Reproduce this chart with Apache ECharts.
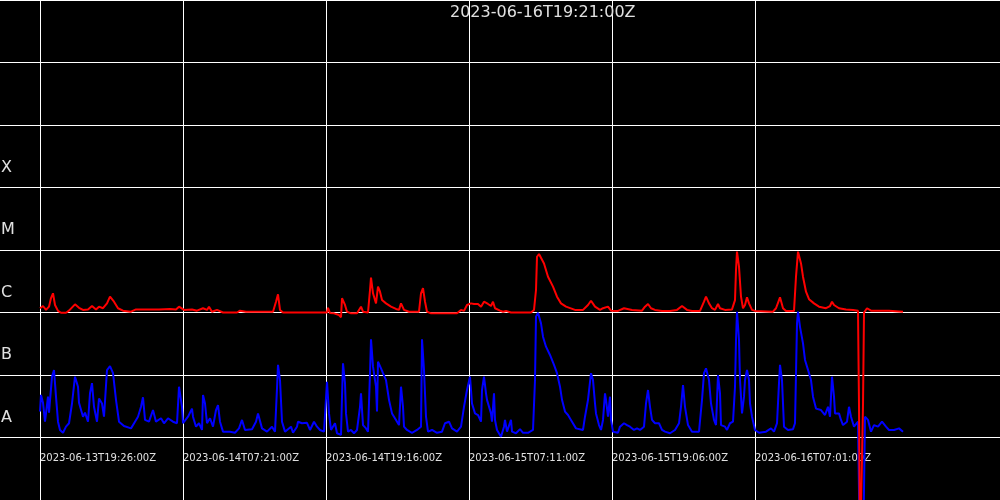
<!DOCTYPE html>
<html>
<head>
<meta charset="utf-8">
<script src="https://cdn.jsdelivr.net/npm/echarts@6/dist/echarts.min.js"></script>
<style>html,body{margin:0;padding:0;background:#000}#c{width:1000px;height:500px}</style>
</head>
<body>
<div id="c"></div>
<script>
// Time in minutes since 2023-06-13T19:26:00Z
const titleText = '2023-06-16T19:21:00Z';
const tickMinutes = [0, 715, 1430, 2145, 2860, 3575];
const tickLabels = ['2023-06-13T19:26:00Z','2023-06-14T07:21:00Z','2023-06-14T19:16:00Z','2023-06-15T07:11:00Z','2023-06-15T19:06:00Z','2023-06-16T07:01:00Z'];
const classValues = [1e-8, 1e-7, 1e-6, 1e-5, 1e-4];
const classLetters = ['A', 'B', 'C', 'M', 'X'];

// Long channel (1-8 Å), W/m²
const longTime = [0,15,30,45,55,65,75,90,105,130,145,175,195,215,240,260,280,295,315,335,350,370,390,415,455,480,530,595,650,680,695,720,760,785,815,835,845,860,885,915,985,1000,1030,1165,1180,1190,1200,1215,1435,1440,1450,1470,1495,1505,1510,1525,1535,1555,1585,1605,1615,1640,1650,1655,1665,1680,1690,1700,1710,1730,1755,1780,1795,1805,1820,1845,1895,1905,1915,1925,1935,1955,2085,2105,2120,2135,2155,2170,2190,2205,2220,2240,2255,2265,2275,2300,2315,2330,2355,2455,2470,2480,2485,2495,2505,2520,2540,2565,2585,2605,2630,2675,2715,2740,2755,2775,2800,2815,2840,2855,2890,2920,2960,3010,3025,3040,3055,3075,3110,3150,3185,3210,3235,3260,3300,3320,3330,3345,3360,3375,3390,3400,3425,3460,3475,3480,3485,3495,3505,3515,3525,3535,3545,3560,3575,3665,3680,3695,3700,3715,3730,3770,3780,3790,3795,3805,3815,3830,3845,3870,3895,3930,3950,3960,3970,3995,4030,4065,4090,4095,4100,4110,4115,4120,4135,4155,4215,4245,4315];
const longFlux = [1.17e-6,1.27e-6,1.10e-6,1.24e-6,1.70e-6,2.03e-6,1.32e-6,1.06e-6,0.99e-6,0.99e-6,1.07e-6,1.35e-6,1.19e-6,1.10e-6,1.12e-6,1.27e-6,1.12e-6,1.24e-6,1.17e-6,1.40e-6,1.79e-6,1.49e-6,1.17e-6,1.07e-6,1.03e-6,1.12e-6,1.12e-6,1.12e-6,1.14e-6,1.12e-6,1.24e-6,1.10e-6,1.12e-6,1.07e-6,1.17e-6,1.10e-6,1.24e-6,1.03e-6,1.10e-6,1.00e-6,1.00e-6,1.07e-6,1.03e-6,1.03e-6,1.49e-6,1.95e-6,1.10e-6,1.00e-6,1.00e-6,1.19e-6,0.98e-6,0.97e-6,0.91e-6,0.84e-6,1.69e-6,1.32e-6,1.03e-6,0.97e-6,0.97e-6,1.24e-6,1.03e-6,1.00e-6,2.29e-6,3.61e-6,2.03e-6,1.40e-6,2.59e-6,2.15e-6,1.58e-6,1.40e-6,1.24e-6,1.14e-6,1.10e-6,1.40e-6,1.10e-6,1.03e-6,1.03e-6,2.03e-6,2.45e-6,1.49e-6,1.03e-6,0.97e-6,0.97e-6,1.10e-6,1.06e-6,1.32e-6,1.40e-6,1.37e-6,1.37e-6,1.24e-6,1.49e-6,1.37e-6,1.27e-6,1.49e-6,1.17e-6,1.07e-6,1.03e-6,1.06e-6,1.00e-6,1.00e-6,1.10e-6,2.29e-6,7.8e-6,8.6e-6,8.3e-6,6.1e-6,3.74e-6,2.59e-6,1.79e-6,1.40e-6,1.24e-6,1.10e-6,1.10e-6,1.32e-6,1.54e-6,1.24e-6,1.10e-6,1.17e-6,1.24e-6,1.07e-6,1.06e-6,1.17e-6,1.10e-6,1.07e-6,1.24e-6,1.37e-6,1.17e-6,1.10e-6,1.06e-6,1.06e-6,1.10e-6,1.27e-6,1.10e-6,1.06e-6,1.06e-6,1.49e-6,1.79e-6,1.40e-6,1.17e-6,1.10e-6,1.37e-6,1.17e-6,1.10e-6,1.12e-6,1.58e-6,4.79e-6,9.4e-6,5.4e-6,1.79e-6,1.17e-6,1.32e-6,1.75e-6,1.40e-6,1.10e-6,1.06e-6,1.03e-6,1.17e-6,1.58e-6,1.75e-6,1.17e-6,1.06e-6,1.06e-6,3.74e-6,9.4e-6,1.0e-5,6.1e-6,3.74e-6,2.15e-6,1.63e-6,1.40e-6,1.24e-6,1.17e-6,1.27e-6,1.49e-6,1.32e-6,1.17e-6,1.12e-6,1.10e-6,1.07e-6,3.3e-8,1e-10,1e-10,3.3e-8,1.00e-6,1.17e-6,1.07e-6,1.07e-6,1.07e-6,1.03e-6];

// Short channel (0.5-4 Å), W/m²
const shortTime = [0,5,15,25,40,45,60,70,80,90,100,115,130,145,160,175,190,195,215,225,240,250,260,270,285,295,310,320,335,350,365,380,395,420,455,475,490,505,515,525,545,565,580,605,620,640,665,685,695,710,715,740,760,765,780,795,810,815,825,835,850,865,880,890,900,915,950,975,995,1010,1025,1060,1080,1090,1110,1135,1160,1175,1185,1190,1200,1210,1225,1255,1265,1285,1290,1310,1335,1350,1370,1385,1400,1420,1435,1445,1455,1465,1475,1485,1505,1510,1515,1525,1530,1540,1555,1570,1585,1600,1605,1615,1630,1640,1650,1655,1665,1680,1685,1690,1705,1715,1730,1745,1760,1780,1795,1805,1815,1820,1835,1860,1885,1905,1910,1920,1930,1940,1960,1985,2010,2025,2045,2060,2085,2105,2120,2135,2150,2160,2175,2190,2205,2210,2220,2230,2235,2255,2260,2270,2275,2285,2305,2320,2325,2335,2355,2360,2380,2400,2415,2440,2465,2475,2480,2490,2505,2515,2530,2550,2570,2585,2600,2610,2625,2640,2660,2680,2715,2725,2740,2755,2765,2775,2780,2795,2805,2815,2825,2830,2840,2850,2855,2865,2890,2900,2920,2935,2950,2970,2985,3000,3020,3030,3040,3050,3060,3075,3095,3110,3125,3150,3175,3195,3205,3215,3225,3240,3260,3295,3310,3320,3330,3345,3355,3370,3380,3390,3400,3405,3425,3435,3450,3465,3475,3480,3485,3495,3500,3510,3520,3525,3535,3545,3550,3560,3575,3595,3630,3655,3670,3685,3695,3700,3710,3720,3740,3765,3775,3785,3790,3800,3815,3825,3845,3855,3865,3880,3905,3925,3940,3950,3960,3970,3975,3995,4005,4015,4035,4045,4055,4070,4090,4100,4115,4125,4140,4155,4170,4190,4210,4230,4245,4270,4295,4315];
const shortFlux = [2.6e-8,4.8e-8,3.6e-8,1.79e-8,4.5e-8,2.5e-8,9.4e-8,1.2e-7,4.5e-8,1.79e-8,1.32e-8,1.19e-8,1.49e-8,1.69e-8,3.5e-8,9.4e-8,6.5e-8,3.6e-8,2.15e-8,2.5e-8,1.79e-8,5.1e-8,7.4e-8,3.1e-8,1.79e-8,4.2e-8,3.5e-8,2.15e-8,1.2e-7,1.39e-7,1.07e-7,4.0e-8,1.79e-8,1.53e-8,1.40e-8,1.79e-8,2.15e-8,3.1e-8,4.4e-8,1.91e-8,1.79e-8,2.75e-8,1.79e-8,2.03e-8,1.69e-8,2.03e-8,1.79e-8,1.69e-8,6.5e-8,3.1e-8,1.69e-8,2.15e-8,2.9e-8,2.15e-8,1.49e-8,1.69e-8,1.32e-8,4.8e-8,3.5e-8,1.69e-8,2.03e-8,1.49e-8,2.75e-8,3.3e-8,1.79e-8,1.24e-8,1.24e-8,1.19e-8,1.40e-8,1.91e-8,1.32e-8,1.36e-8,1.79e-8,2.43e-8,1.40e-8,1.24e-8,1.49e-8,1.24e-8,6.1e-8,1.45e-7,8.3e-8,1.79e-8,1.24e-8,1.49e-8,1.19e-8,1.49e-8,1.79e-8,1.69e-8,1.72e-8,1.32e-8,1.79e-8,1.49e-8,1.32e-8,1.24e-8,7.8e-8,2.43e-8,1.32e-8,1.40e-8,1.69e-8,1.17e-8,1.10e-8,4.5e-8,1.54e-7,7.4e-8,2.43e-8,1.24e-8,1.32e-8,1.17e-8,1.32e-8,3.1e-8,5.1e-8,1.58e-8,1.40e-8,1.24e-8,1.07e-7,3.72e-7,1.36e-7,6.5e-8,2.6e-8,1.63e-7,1.28e-7,1.07e-7,8.3e-8,4.0e-8,2.43e-8,1.91e-8,1.58e-8,6.5e-8,3.1e-8,1.49e-8,1.32e-8,1.19e-8,1.32e-8,1.49e-8,3.72e-7,1.2e-7,2.15e-8,1.24e-8,1.32e-8,1.19e-8,1.24e-8,1.69e-8,1.79e-8,1.40e-8,1.24e-8,1.49e-8,3.1e-8,5.75e-8,9.4e-8,3.5e-8,2.43e-8,2.29e-8,1.79e-8,5.75e-8,9.4e-8,5.1e-8,4.0e-8,2.43e-8,1.79e-8,5.1e-8,1.91e-8,1.32e-8,1.03e-8,1.49e-8,1.91e-8,1.24e-8,1.91e-8,1.24e-8,1.17e-8,1.36e-8,1.19e-8,1.19e-8,1.32e-8,8.3e-8,8.6e-7,9.9e-7,6.7e-7,4.1e-7,2.84e-7,2.09e-7,1.45e-7,1.07e-7,6.5e-8,4.0e-8,2.6e-8,2.29e-8,1.79e-8,1.40e-8,1.32e-8,2.15e-8,4.0e-8,1.07e-7,8.3e-8,3.5e-8,2.43e-8,1.58e-8,1.32e-8,1.91e-8,5.1e-8,4.0e-8,2.15e-8,4.5e-8,1.91e-8,1.24e-8,1.19e-8,1.49e-8,1.69e-8,1.58e-8,1.49e-8,1.32e-8,1.40e-8,1.32e-8,1.49e-8,3.5e-8,5.75e-8,3.1e-8,1.91e-8,1.69e-8,1.69e-8,1.32e-8,1.24e-8,1.17e-8,1.32e-8,1.69e-8,3.1e-8,6.9e-8,3.1e-8,1.58e-8,1.24e-8,1.24e-8,4.0e-8,1.07e-7,1.28e-7,8.3e-8,3.5e-8,1.91e-8,1.58e-8,1.0e-7,5.1e-8,1.58e-8,1.49e-8,1.32e-8,1.69e-8,1.79e-8,6.5e-8,3.63e-7,1.03e-6,3.63e-7,8.3e-8,2.43e-8,4.5e-8,8.3e-8,1.2e-7,8.3e-8,3.5e-8,2.15e-8,1.32e-8,1.19e-8,1.24e-8,1.40e-8,1.24e-8,1.69e-8,7.4e-8,1.45e-7,8.3e-8,1.49e-8,1.32e-8,1.36e-8,1.69e-8,6.7e-7,1.03e-6,5.9e-7,3.21e-7,1.74e-7,1.07e-7,8.3e-8,4.5e-8,2.9e-8,2.75e-8,2.29e-8,3.1e-8,2.15e-8,9.4e-8,4.5e-8,2.43e-8,2.43e-8,1.91e-8,1.58e-8,1.79e-8,3.1e-8,2.15e-8,1.49e-8,1.79e-8,1e-10,1e-10,2.15e-8,1.91e-8,1.24e-8,1.58e-8,1.49e-8,1.79e-8,1.49e-8,1.32e-8,1.32e-8,1.40e-8,1.24e-8];

const zip = (t, v) => t.map((x, i) => [x, v[i]]);
const txt = '#e0e0e0';
const font = 'DejaVu Sans';

const chart = echarts.init(document.getElementById('c'), null, {renderer: 'canvas'});
chart.setOption({
  backgroundColor: '#000',
  animation: false,
  title: {
    text: titleText, left: 450, top: 5, padding: 0,
    textStyle: {color: txt, fontSize: 16, fontWeight: 'normal', fontFamily: font}
  },
  grid: [
    {left: 0, right: 0, top: 0, bottom: 0, containLabel: false, outerBoundsMode: 'none'},
    {left: 40, right: 0, top: 0, bottom: 0, containLabel: false, outerBoundsMode: 'none'}
  ],
  xAxis: [
    {gridIndex: 0, type: 'value', min: 0, max: 1, show: false},
    {
      gridIndex: 1, type: 'value', min: 0, max: 4800, interval: 715,
      axisLine: {show: false},
      axisTick: {show: false, customValues: tickMinutes},
      axisLabel: {
        inside: true, customValues: tickMinutes,
        formatter: v => { const i = tickMinutes.indexOf(v); return i >= 0 ? tickLabels[i] : ''; },
        color: txt, fontSize: 10, fontFamily: font, align: 'left', verticalAlign: 'middle', margin: 42
      },
      splitLine: {show: true, lineStyle: {color: '#ffffff', width: 1}}
    }
  ],
  yAxis: [
    {
      gridIndex: 0, type: 'log', logBase: 10, min: 1e-9, max: 1e-1, splitNumber: 8,
      axisLine: {show: false}, axisTick: {show: false},
      splitLine: {show: true, lineStyle: {color: '#ffffff', width: 1}},
      axisLabel: {
        inside: true, margin: 1, color: txt, fontSize: 16, fontFamily: font,
        align: 'left', verticalAlign: 'middle', lineHeight: 40,
        formatter: v => {
          const e = Math.round(Math.log10(v));
          const i = classValues.findIndex(c => Math.round(Math.log10(c)) === e);
          return i >= 0 ? classLetters[i] + '\n ' : '';
        }
      }
    },
    {gridIndex: 1, type: 'log', logBase: 10, min: 1e-9, max: 1e-1, show: false}
  ],
  series: [
    {
      name: 'short', type: 'line', xAxisIndex: 1, yAxisIndex: 1,
      data: zip(shortTime, shortFlux), showSymbol: false, symbol: 'none', clip: true,
      lineStyle: {color: '#0000ff', width: 2}, itemStyle: {color: '#0000ff'}, silent: true
    },
    {
      name: 'long', type: 'line', xAxisIndex: 1, yAxisIndex: 1,
      data: zip(longTime, longFlux), showSymbol: false, symbol: 'none', clip: true,
      lineStyle: {color: '#ff0000', width: 2}, itemStyle: {color: '#ff0000'}, silent: true
    }
  ]
});
</script>
</body>
</html>
